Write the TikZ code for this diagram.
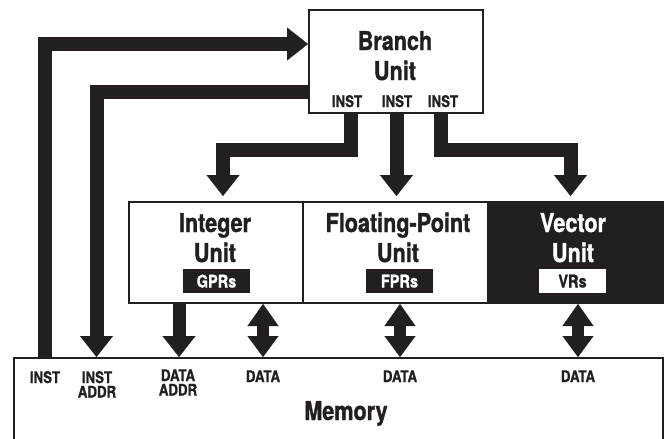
\documentclass[tikz,border=0pt]{standalone}
\usepackage{fontspec}
\setmainfont{TeX Gyre Heros}[FakeStretch=0.83, BoldFeatures={FakeBold=1.2}]
\usetikzlibrary{arrows.meta}
\definecolor{ink}{RGB}{35,31,32}
\begin{document}
\begin{tikzpicture}[x=1pt,y=-1pt,
  box/.style={draw=ink, line width=2pt, inner sep=0pt, anchor=north west},
  big/.style={font=\fontsize{26}{30}\selectfont\bfseries, text=ink, anchor=base, inner sep=0pt},
  small/.style={font=\fontsize{16}{14.5}\selectfont\bfseries, text=ink, anchor=base, inner sep=0pt, align=center},
  reg/.style={font=\fontsize{17.5}{18}\selectfont\bfseries, inner sep=0pt, minimum width=67pt, minimum height=24pt, anchor=north},
  bigarrow/.style={draw=ink, line width=14pt, line join=miter, -{Triangle[width=33pt,length=21pt,line width=0.1pt]}},
  dblarrow/.style={draw=ink, line width=12pt, {Triangle[width=31pt,length=22pt,line width=0.1pt]}-{Triangle[width=31pt,length=21pt,line width=0.1pt]}}
]
\useasboundingbox (0,0) rectangle (664,439);

% boxes
\node[box, minimum width=174pt, minimum height=103pt] (branch) at (308,9) {};
\node[box, minimum width=174pt, minimum height=101pt] (int) at (128,201) {};
\node[box, minimum width=185pt, minimum height=101pt] (fp) at (302,201) {};
\node[box, fill=ink, minimum width=175pt, minimum height=101pt] (vec) at (487,201) {};
\node[box, minimum width=649pt, minimum height=90pt] (mem) at (13,357) {};

% branch labels
\node[big] (bt1) at (395,50) {Branch};
\node[big] (bt2) at (395,80) {Unit};
\node[small] (bi1) at (347,107) {INST};
\node[small] (bi2) at (397,107) {INST};
\node[small] (bi3) at (443,107) {INST};

% unit labels
\node[big] (it1) at (215,232) {Integer};
\node[big] (it2) at (215,262) {Unit};
\node[reg, fill=ink, text=white] (gpr) at (216.5,269) {GPRs};
\node[big] (ft1) at (398,232) {Floating-Point};
\node[big] (ft2) at (398,262) {Unit};
\node[reg, fill=ink, text=white] (fpr) at (399.5,269) {FPRs};
\node[big, text=white] (vt1) at (573,232) {Vector};
\node[big, text=white] (vt2) at (573,262) {Unit};
\node[reg, fill=white, text=ink] (vr) at (572.5,269) {VRs};

% memory labels
\node[small] (m1) at (45,383) {INST};
\node[small] (m2) at (97,397.5) {INST\\ADDR};
\node[small] (m3) at (178,395.5) {DATA\\ADDR};
\node[small] (m4) at (263,382) {DATA};
\node[small] (m5) at (400,382) {DATA};
\node[small] (m6) at (578,382) {DATA};
\node[big] (mt) at (346,420) {Memory};

% connectors to/from branch unit
\draw[bigarrow] (44.5,0 |- mem.north) |- (branch.west |- 0,44);
\draw[bigarrow] (branch.west |- 0,91.5) -| (96.5,0 |- mem.north);
\draw[bigarrow, shorten >=5pt] (350.5,0 |- branch.south) |- (223,150) -- (223,0 |- int.north);
\draw[bigarrow, shorten >=5pt] (396.5,0 |- branch.south) -- (396.5,0 |- fp.north);
\draw[bigarrow, shorten >=5pt] (441,0 |- branch.south) |- (570.5,150) -- (570.5,0 |- vec.north);

% connectors to memory
\draw[bigarrow, line width=13pt] (179,0 |- int.south) -- (179,0 |- mem.north);
\draw[dblarrow] (263,0 |- int.south) -- (263,0 |- mem.north);
\draw[dblarrow] (400,0 |- fp.south) -- (400,0 |- mem.north);
\draw[dblarrow] (578,0 |- vec.south) -- (578,0 |- mem.north);
\end{tikzpicture}
\end{document}
